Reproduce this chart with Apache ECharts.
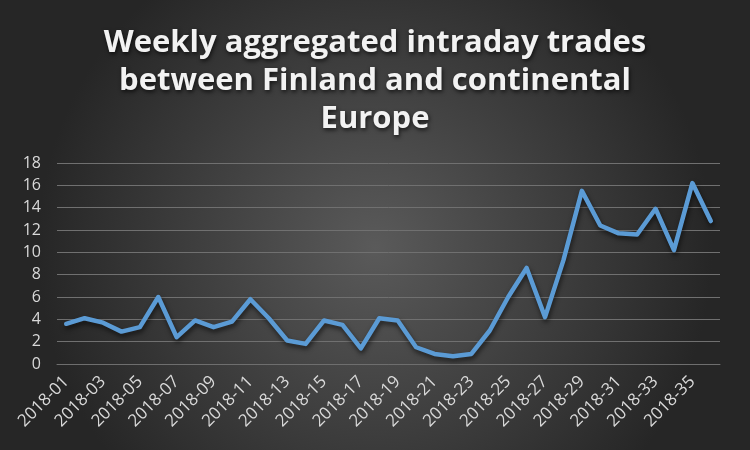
<!DOCTYPE html>
<html>
<head>
<meta charset="utf-8">
<script src="https://cdn.jsdelivr.net/npm/echarts@6/dist/echarts.min.js"></script>
<style>html,body{margin:0;padding:0;background:#333;}#c{width:750px;height:450px;}</style>
</head>
<body>
<div id="c"></div>
<script>
var weeks = [];
for (var i = 1; i <= 36; i++) { weeks.push('2018-' + (i < 10 ? '0' + i : '' + i)); }
var trades = [3.6, 4.1, 3.7, 2.9, 3.3, 6.0, 2.4, 3.9, 3.3, 3.8, 5.8, 4.1, 2.1, 1.8, 3.9, 3.5, 1.4, 4.1, 3.9, 1.5, 0.9, 0.7, 0.9, 3.0, 6.0, 8.6, 4.2, 9.3, 15.5, 12.4, 11.7, 11.6, 13.9, 10.2, 16.2, 12.8];
var yTicks = {min: 0, max: 18, interval: 2};
var titleText = 'Weekly aggregated intraday trades\nbetween Finland and continental\nEurope';

var chart = echarts.init(document.getElementById('c'), null, {renderer: 'canvas'});
chart.setOption({
  backgroundColor: {
    type: 'radial', x: 0.5, y: 0.55, r: 0.75,
    colorStops: [{offset: 0, color: '#5a5a5a'}, {offset: 1, color: '#262626'}]
  },
  title: {
    text: titleText,
    left: 'center',
    top: 19,
    textStyle: {
      color: '#f2f2f2', fontFamily: 'Open Sans', fontWeight: 'bold', fontSize: 31, lineHeight: 38,
      textShadowColor: 'rgba(0,0,0,0.7)', textShadowBlur: 4, textShadowOffsetX: 1, textShadowOffsetY: 2
    }
  },
  grid: {left: 57, right: 30, top: 163, bottom: 86, containLabel: false},
  xAxis: {
    type: 'category',
    data: weeks,
    boundaryGap: true,
    axisLine: {show: true, lineStyle: {color: '#6e6e6e', width: 1}},
    axisTick: {show: false},
    axisLabel: {
      interval: 1, rotate: 45, color: '#d9d9d9', fontFamily: 'Open Sans', fontSize: 17, margin: 15
    }
  },
  yAxis: {
    type: 'value',
    min: yTicks.min, max: yTicks.max, interval: yTicks.interval,
    axisLine: {show: false},
    axisTick: {show: false},
    axisLabel: {color: '#d9d9d9', fontFamily: 'Open Sans', fontSize: 16, margin: 16},
    splitLine: {lineStyle: {color: '#707070', width: 1}}
  },
  series: [{
    type: 'line',
    data: trades,
    symbol: 'none',
    lineStyle: {
      color: '#5b9bd5', width: 4.5, cap: 'round', join: 'round',
      shadowColor: 'rgba(0,0,0,0.6)', shadowBlur: 5, shadowOffsetX: 1, shadowOffsetY: 3
    },
    animation: false
  }],
  animation: false
});
</script>
</body>
</html>
